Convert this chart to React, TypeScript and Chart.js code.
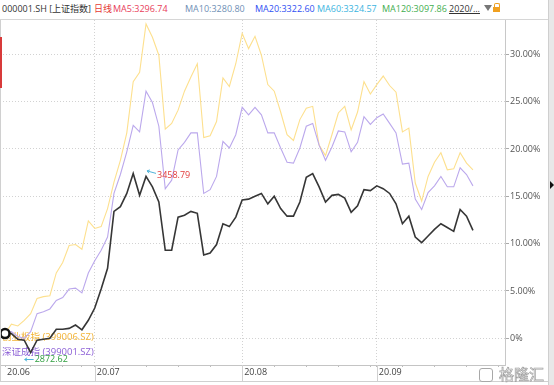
import React, { useEffect, useRef } from 'react';
import { Chart, registerables } from 'chart.js';

Chart.register(...registerables);

// ---- data (percent change from base) ----
const sse = [
  0.5, 0.5, -0.1, -0.2, -1.5, -0.2, -0.1, 0.0, 0.95, 0.95,
  1.05, 1.4, 0.9, 1.9, 3.2, 5.2, 7.4, 13.4, 13.9, 15.3,
  17.4, 15.1, 17.1, 16.0, 14.4, 9.3, 9.3, 12.8, 13.0, 13.4,
  13.2, 8.8, 9.0, 9.9, 12.1, 11.8, 12.8, 14.6, 14.7, 15.0,
  15.3, 14.2, 15.0, 13.7, 12.9, 12.9, 14.4, 17.0, 17.4, 16.0,
  14.4, 15.1, 15.2, 14.8, 13.3, 14.0, 15.7, 15.6, 16.1, 15.8,
  15.3, 14.2, 12.1, 12.9, 10.7, 10.1, 10.8, 11.5, 12.1, 11.7,
  11.3, 13.6, 12.9, 11.4,
];
const chinext = [
  0.5, 1.5, 1.3, 1.9, 2.6, 4.2, 4.4, 4.5, 6.9, 8.0,
  9.8, 9.9, 9.4, 12.4, 11.6, 11.8, 13.7, 16.5, 18.8, 21.7,
  27.1, 28.1, 33.2, 31.8, 29.9, 22.1, 22.7, 24.1, 26.1, 27.6,
  29.0, 21.2, 21.4, 22.9, 27.5, 26.6, 29.0, 32.2, 30.6, 31.9,
  29.9, 26.8, 26.1, 23.9, 21.5, 20.9, 23.1, 24.3, 24.5, 20.4,
  19.3, 21.5, 23.8, 24.5, 22.0, 23.9, 27.1, 25.8, 26.8, 27.7,
  26.7, 26.0, 21.8, 22.2, 16.4, 14.5, 17.1, 18.6, 19.6, 17.8,
  17.9, 19.6, 18.5, 17.8,
];
const szse = [
  0.5, 0.7, 0.2, 0.0, 0.7, 2.6, 2.8, 3.1, 4.0, 4.3,
  5.2, 5.3, 4.8, 6.9, 8.2, 9.3, 10.7, 15.3, 17.3, 19.7,
  22.5, 21.8, 26.1, 24.9, 22.4, 15.8, 16.7, 19.9, 20.7, 21.7,
  21.7, 15.3, 15.7, 17.1, 20.8, 20.1, 21.5, 24.4, 23.6, 24.4,
  23.6, 21.7, 21.7, 20.1, 18.6, 18.5, 20.1, 22.4, 22.7, 20.4,
  18.8, 20.2, 21.9, 21.8, 19.7, 20.7, 23.4, 22.6, 23.3, 23.7,
  22.7, 21.7, 18.4, 18.5, 14.7, 13.6, 15.4, 16.1, 17.1, 16.0,
  16.0, 18.0, 17.3, 16.1,
];

const xTickIndex = [0, 14, 37, 58];
const xTickLabels = ['20.06', '20.07', '20.08', '20.09'];
const weekTickIndex = [4, 9, 12, 17, 22, 27, 32, 42, 47, 52, 57, 62, 67, 72, 77];
const yTickValues = [0, 5, 10, 15, 20, 25, 30];
const legendNames = ['创业板指 (399006.SZ)', '深证成指 (399001.SZ)'];
const extremeIndex = [22, 4];
const extremeLabels = ['3458.79', '2872.62'];

const headerItems = [
  { text: '000001.SH [上证指数]', x: 2, color: '#333333' },
  { text: '日线', x: 94, color: '#e53935' },
  { text: 'MA5:3296.74', x: 113, color: '#e8405a' },
  { text: 'MA10:3280.80', x: 185, color: '#6f8fb5' },
  { text: 'MA20:3322.60', x: 255, color: '#2f4ff2' },
  { text: 'MA60:3324.57', x: 317, color: '#3ab4e0' },
  { text: 'MA120:3097.86', x: 382, color: '#3fae4f' },
];

const FONT = '"Open Sans", "Noto Sans CJK SC", sans-serif';

function arrow(ctx: CanvasRenderingContext2D, x1: number, y1: number, x2: number, y2: number) {
  ctx.beginPath();
  ctx.moveTo(x1, y1);
  ctx.lineTo(x2, y2);
  const a = Math.atan2(y2 - y1, x2 - x1);
  ctx.moveTo(x2 + 3 * Math.cos(a + Math.PI - 0.6), y2 + 3 * Math.sin(a + Math.PI - 0.6));
  ctx.lineTo(x2, y2);
  ctx.lineTo(x2 + 3 * Math.cos(a + Math.PI + 0.6), y2 + 3 * Math.sin(a + Math.PI + 0.6));
  ctx.stroke();
}

const annotPlugin = {
  id: 'annot',
  beforeDatasetsDraw(chart: any) {
    const { ctx, chartArea } = chart;
    ctx.save();
    ctx.font = `9.5px ${FONT}`;
    ctx.textBaseline = 'middle';
    ctx.textAlign = 'left';
    ctx.fillStyle = '#f2b233';
    ctx.fillText(legendNames[0], chartArea.left + 2, chartArea.bottom - 27.5);
    ctx.fillStyle = '#8c5fd6';
    ctx.fillText(legendNames[1], chartArea.left + 2, chartArea.bottom - 12.5);
    ctx.restore();
  },
  afterDatasetsDraw(chart: any) {
    const { ctx } = chart;
    const xs = chart.scales.x;
    const ys = chart.scales.y;
    ctx.save();
    ctx.font = `9px ${FONT}`;
    ctx.textBaseline = 'middle';
    ctx.textAlign = 'left';
    ctx.strokeStyle = '#4fb3d9';
    ctx.lineWidth = 1;
    // high
    const hx = xs.getPixelForValue(extremeIndex[0]);
    const hy = ys.getPixelForValue(sse[extremeIndex[0]]);
    arrow(ctx, hx + 10, hy - 3, hx + 1, hy - 5.5);
    ctx.fillStyle = '#e23b3b';
    ctx.fillText(extremeLabels[0], hx + 11, hy - 1);
    // low
    const lx = xs.getPixelForValue(extremeIndex[1]);
    const ly = ys.getPixelForValue(sse[extremeIndex[1]]);
    arrow(ctx, lx + 3, ly + 7, lx - 6, ly + 7);
    ctx.fillStyle = '#2e9e3e';
    ctx.fillText(extremeLabels[1], lx + 4, ly + 7);
    ctx.restore();
  },
  afterDraw(chart: any) {
    const { ctx, chartArea } = chart;
    const xs = chart.scales.x;
    ctx.save();
    ctx.fillStyle = '#d0d0d0';
    for (let k = 1; k < xTickIndex.length; k++) {
      const px = Math.round(xs.getPixelForValue(xTickIndex[k]));
      ctx.fillRect(px, chartArea.bottom, 1, chart.height - 3 - chartArea.bottom);
    }
    ctx.fillRect(0, chart.height - 4, chart.width, 1);
    ctx.fillRect(0, 0, 1, chart.height - 3);
    ctx.restore();
  },
};

export default function App() {
  const ref = useRef<HTMLCanvasElement>(null);
  useEffect(() => {
    document.body.style.margin = '0';
    const c = ref.current!;
    const mk = (vals: number[]) => vals.map((v, i) => ({ x: i, y: v }));
    const allXTicks = [...xTickIndex, ...weekTickIndex].sort((a, b) => a - b);
    const chart = new Chart(c, {
      type: 'line',
      data: {
        datasets: [
          {
            label: '上证指数',
            data: mk(sse),
            borderColor: '#363636',
            borderWidth: 1.6,
            pointRadius: (ctx: any) => (ctx.dataIndex === 0 ? 4.5 : 0),
            pointBorderWidth: 2.5,
            pointBorderColor: '#111111',
            pointBackgroundColor: '#ffffff',
            pointHoverRadius: 0,
            tension: 0,
            clip: 10,
          },
          {
            label: '深证成指',
            data: mk(szse),
            borderColor: '#bba8ec',
            borderWidth: 1.1,
            pointRadius: 0,
            tension: 0,
          },
          {
            label: '创业板指',
            data: mk(chinext),
            borderColor: '#fde08e',
            borderWidth: 1.1,
            pointRadius: 0,
            tension: 0,
          },
        ],
      } as any,
      options: {
        responsive: false,
        animation: false,
        events: [],
        layout: { padding: 0, autoPadding: false },
        plugins: { legend: { display: false }, tooltip: { enabled: false } },
        scales: {
          x: {
            type: 'linear',
            min: -0.78,
            max: 78,
            afterBuildTicks: (s: any) => {
              s.ticks = allXTicks.map((v) => ({ value: v }));
            },
            afterFit: (s: any) => {
              s.height = 20;
              s.paddingLeft = 0;
              s.paddingRight = 0;
            },
            grid: {
              color: (ctx: any) =>
                xTickIndex.slice(1).includes(ctx.tick?.value) ? '#d2d2d2' : 'rgba(0,0,0,0)',
              tickColor: '#bbbbbb',
              tickLength: 2,
              tickBorderDash: [],
              lineWidth: 1,
            },
            border: { display: true, color: '#c4c4c4', width: 1, dash: [1, 2] },
            ticks: {
              autoSkip: false,
              maxRotation: 0,
              minRotation: 0,
              align: 'start',
              labelOffset: 2,
              padding: 0,
              color: '#444444',
              font: { size: 9, family: FONT },
              callback: (v: any) => {
                const k = xTickIndex.indexOf(Number(v));
                return k >= 0 ? xTickLabels[k] : '';
              },
            },
          },
          y: {
            type: 'linear',
            position: 'right',
            min: -2.82,
            max: 33.62,
            afterBuildTicks: (s: any) => {
              s.ticks = yTickValues.map((v) => ({ value: v }));
            },
            afterFit: (s: any) => {
              s.width = 43;
              s.paddingTop = 0;
              s.paddingBottom = 0;
            },
            grid: {
              color: '#d2d2d2',
              tickColor: '#aaaaaa',
              tickLength: 4,
              tickBorderDash: [],
              lineWidth: 1,
            },
            border: { display: true, color: '#c8c8c8', width: 1, dash: [1, 2] },
            ticks: {
              padding: 1,
              color: '#555555',
              font: { size: 9, family: FONT },
              callback: (v: any) => (Number(v) === 0 ? '0%' : Number(v).toFixed(2) + '%'),
            },
          },
        },
      } as any,
      plugins: [annotPlugin as any],
    });
    return () => chart.destroy();
  }, []);

  return (
    <div
      style={{
        position: 'absolute',
        left: 0,
        top: 0,
        width: 554,
        height: 385,
        background: '#ffffff',
        overflow: 'hidden',
        fontFamily: FONT,
      }}
    >
      <div
        style={{
          position: 'absolute',
          left: 0,
          top: 0,
          width: 548,
          height: 19,
          borderBottom: '1px solid #d6d6d6',
        }}
      >
        {headerItems.map((h) => (
          <span
            key={h.text}
            style={{
              position: 'absolute',
              left: h.x,
              top: 2,
              fontSize: 9,
              lineHeight: '13px',
              color: h.color,
              whiteSpace: 'nowrap',
            }}
          >
            {h.text}
          </span>
        ))}
        <span
          style={{
            position: 'absolute',
            left: 449,
            top: 2,
            fontSize: 9,
            lineHeight: '13px',
            color: '#333',
            textDecoration: 'underline',
            whiteSpace: 'nowrap',
          }}
        >
          2020/...
        </span>
        <div
          style={{
            position: 'absolute',
            left: 484,
            top: 5,
            width: 0,
            height: 0,
            borderLeft: '4px solid transparent',
            borderRight: '4px solid transparent',
            borderTop: '6px solid #777',
          }}
        />
        <div
          style={{
            position: 'absolute',
            left: 494,
            top: 3,
            width: 4,
            height: 4,
            border: '1px solid #f0a020',
            borderBottom: 'none',
            borderRadius: '2px 2px 0 0',
          }}
        />
        <div
          style={{ position: 'absolute', left: 493, top: 7, width: 7, height: 5, background: '#f0a020' }}
        />
      </div>
      <canvas
        ref={ref}
        width={548}
        height={365}
        style={{ position: 'absolute', left: 0, top: 20, width: 548, height: 365, display: 'block' }}
      />
      <div style={{ position: 'absolute', left: 0, top: 37, width: 2, height: 51, background: '#d83a3a' }} />
      <div
        style={{
          position: 'absolute',
          left: 548,
          top: 0,
          width: 6,
          height: 385,
          background: '#e8e8e8',
          borderLeft: '1px solid #cfcfcf',
          boxSizing: 'border-box',
        }}
      />
      <div
        style={{
          position: 'absolute',
          left: 550,
          top: 181,
          width: 0,
          height: 0,
          borderTop: '4px solid transparent',
          borderBottom: '4px solid transparent',
          borderLeft: '4px solid #111',
        }}
      />
      <div
        style={{
          position: 'absolute',
          left: 479,
          top: 368,
          width: 12,
          height: 12,
          border: '1.5px solid #a8a8a8',
          borderRadius: 3,
          background: 'rgba(255,255,255,0.6)',
        }}
      />
      <span
        style={{
          position: 'absolute',
          left: 499,
          top: 364,
          fontSize: 15,
          lineHeight: '20px',
          color: 'rgba(255,255,255,0.7)',
          WebkitTextStroke: '0.7px #a0a0a0',
          fontFamily: '"Noto Sans CJK SC", sans-serif',
          whiteSpace: 'nowrap',
        } as any}
      >
        格隆汇
      </span>
    </div>
  );
}
